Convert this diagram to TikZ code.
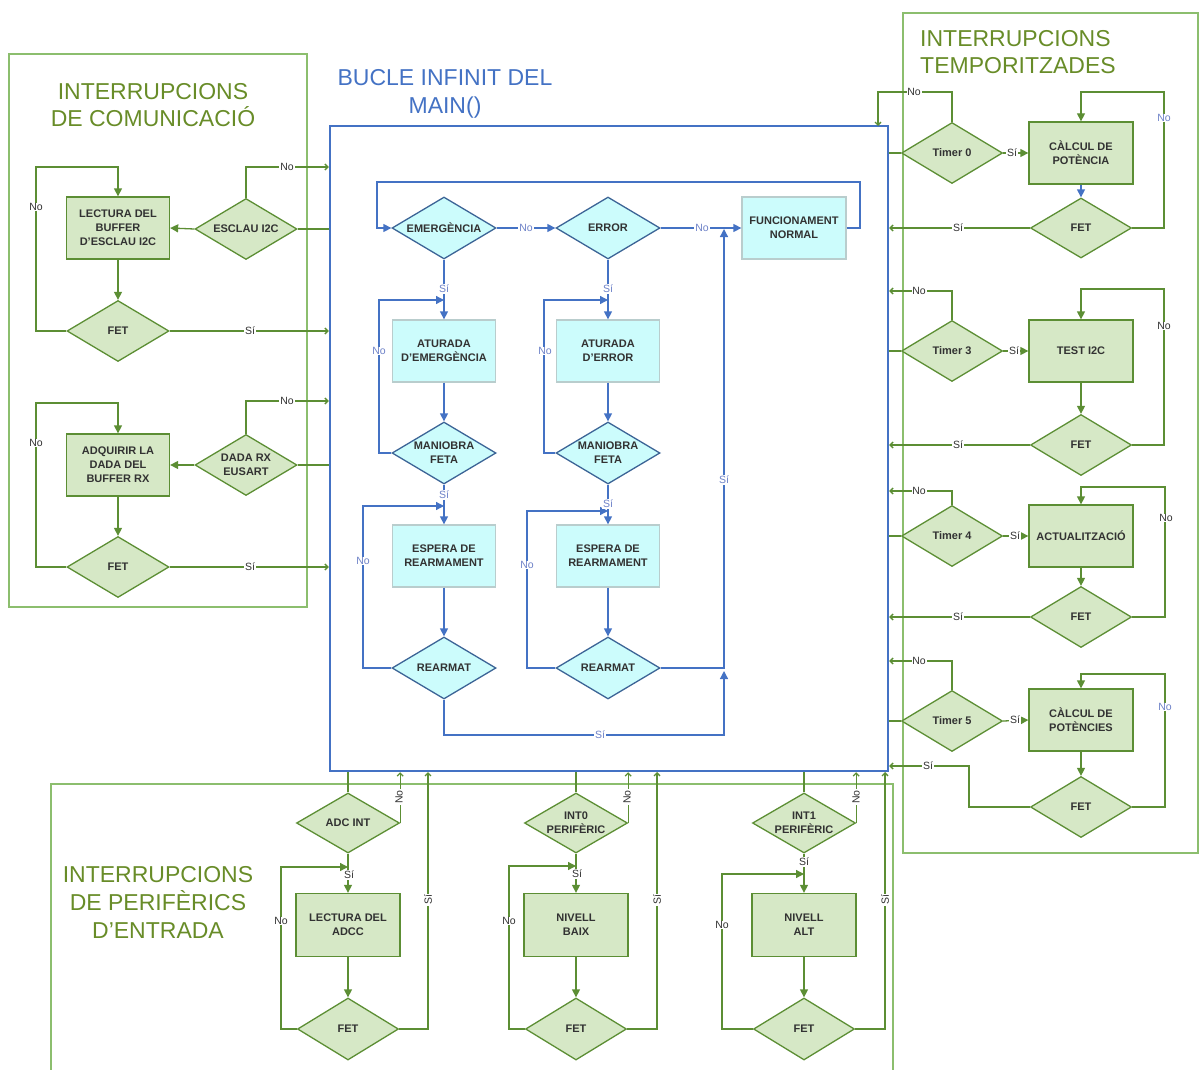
\documentclass[tikz,border=0pt]{standalone}
\usepackage{fontspec}
\setmainfont{Liberation Sans}
\usetikzlibrary{shapes.geometric,arrows.meta,calc}

\definecolor{gline}{RGB}{92,142,52}
\definecolor{gframe}{RGB}{140,190,110}
\definecolor{gfill}{RGB}{214,232,198}
\definecolor{gtitle}{RGB}{104,140,40}
\definecolor{bline}{RGB}{68,114,196}
\definecolor{bfill}{RGB}{204,252,252}
\definecolor{bdia}{RGB}{60,100,150}
\definecolor{bboxline}{RGB}{185,205,205}
\definecolor{blbl}{RGB}{110,130,200}
\definecolor{txt}{RGB}{50,50,50}

\begin{document}
\begin{tikzpicture}[x=1pt,y=-1pt,
  font=\fontsize{11}{14}\selectfont\bfseries,
  gdia/.style={diamond, draw=gline, fill=gfill, line width=1.3pt, inner xsep=-60pt, inner ysep=-30pt,
    minimum width=102pt, minimum height=61pt, align=center, text=txt},
  gbox/.style={rectangle, draw=gline, fill=gfill, line width=1.3pt, inner sep=0pt,
    minimum width=103pt, minimum height=62pt, align=center, text=txt},
  bdiam/.style={diamond, draw=bdia, fill=bfill, line width=1.3pt, inner xsep=-60pt, inner ysep=-30pt,
    minimum width=104pt, minimum height=62pt, align=center, text=txt},
  bbox/.style={rectangle, draw=bboxline, fill=bfill, line width=1.3pt, inner sep=0pt,
    minimum width=103pt, minimum height=62pt, align=center, text=txt},
  gl/.style={draw=gline, line width=1.3pt},
  ga/.style={gl, -{Triangle[length=8pt,width=8pt]}},
  gt/.style={gl, -{Straight Barb[length=3pt,width=6pt]}},
  bl/.style={draw=bline, line width=1.3pt},
  ba/.style={bl, -{Triangle[length=8pt,width=8pt]}},
  glab/.style={fill=white, inner sep=0.8pt, text=txt, font=\fontsize{10.5}{12}\selectfont},
  blab/.style={fill=white, inner sep=0.8pt, text=blbl, font=\fontsize{10.5}{12}\selectfont},
  heading/.style={text=gtitle, font=\fontsize{23}{27.5}\selectfont, align=center, inner sep=0pt},
  frame/.style={draw=gframe, line width=1.3pt}
]
\useasboundingbox (0,0) rectangle (1199,1070);

% ---------- group frames ----------
\draw[frame] (9,54) rectangle (307,607);
\draw[frame] (903,13) rectangle (1198,853);
\draw[frame] (51,1080) -- (51,784) -- (893,784) -- (893,1080);

% ---------- main loop frame ----------
\node[draw=bline, line width=2.4pt, minimum width=558pt, minimum height=645pt, inner sep=0pt] (main) at (609,448.5) {};

% ---------- headings ----------
\node[heading] (tCom) at (153,105) {INTERRUPCIONS\\DE COMUNICACIÓ};
\node[heading, text=bline] (tMain) at (445,94) {BUCLE INFINIT DEL\\MAIN()};
\node[heading, align=left, anchor=west] (tTmp) at (920,52) {INTERRUPCIONS\\TEMPORITZADES};
\node[heading, font=\fontsize{23}{28}\selectfont] (tPer) at (158,902) {INTERRUPCIONS\\DE PERIFÈRICS\\D'ENTRADA};

% ---------- communication interrupts ----------
\node[gdia] (esc) at (246,229) {ESCLAU I2C};
\node[gbox] (lec) at (118,228) {LECTURA DEL\\BUFFER\\D'ESCLAU I2C};
\node[gdia] (fetA) at (118,331) {FET};
\node[gdia] (dada) at (246,465) {DADA RX\\EUSART};
\node[gbox] (adq) at (118,465) {ADQUIRIR LA\\DADA DEL\\BUFFER RX};
\node[gdia] (fetB) at (118,567) {FET};

\draw[ga] (esc.west) -- (lec.east);
\draw[ga] (lec.south) -- (fetA.north);
\draw[ga] (fetA.west) -| (36,167) -| (lec.north);
\draw[gt] (esc.north) |- (main.west |- 0,167);
\draw[gl] (esc.east) -- (main.west |- esc.east);
\draw[gt] (fetA.east) -- (main.west |- fetA.east);
\node[glab] (nA1) at (36,207) {No};
\node[glab] (nA2) at (287,167) {No};
\node[glab] (sA1) at (250,331) {Sí};

\draw[ga] (dada.west) -- (adq.east);
\draw[ga] (adq.south) -- (fetB.north);
\draw[ga] (fetB.west) -| (36,403) -| (adq.north);
\draw[gt] (dada.north) |- (main.west |- 0,401);
\draw[gl] (dada.east) -- (main.west |- dada.east);
\draw[gt] (fetB.east) -- (main.west |- fetB.east);
\node[glab] (nB1) at (36,443) {No};
\node[glab] (nB2) at (287,401) {No};
\node[glab] (sB1) at (250,567) {Sí};

% ---------- main loop ----------
\node[bdiam] (emer) at (444,228) {EMERGÈNCIA};
\node[bdiam] (err) at (608,228) {ERROR};
\node[bbox, minimum width=104pt] (func) at (794,228) {FUNCIONAMENT\\NORMAL};
\node[bbox] (atE) at (444,351) {ATURADA\\D'EMERGÈNCIA};
\node[bbox] (atR) at (608,351) {ATURADA\\D'ERROR};
\node[bdiam] (manE) at (444,453) {MANIOBRA\\FETA};
\node[bdiam] (manR) at (608,453) {MANIOBRA\\FETA};
\node[bbox] (espE) at (444,556) {ESPERA DE\\REARMAMENT};
\node[bbox] (espR) at (608,556) {ESPERA DE\\REARMAMENT};
\node[bdiam] (reaE) at (444,668) {REARMAT};
\node[bdiam] (reaR) at (608,668) {REARMAT};

\draw[ba] (func.east) -- (860,228) |- (377,182) |- (emer.west);
\draw[ba] (emer.east) -- (err.west);
\draw[ba] (err.east) -- (func.west);
\node[blab] (mN1) at (526,228) {No};
\node[blab] (mN2) at (702,228) {No};

\draw[ba] (emer.south) -- (atE.north);
\draw[ba] (atE.south) -- (manE.north);
\draw[ba] (manE.west) -| (379,300) -- (emer.south |- 0,300);
\draw[ba] (manE.south) -- (espE.north);
\draw[ba] (espE.south) -- (reaE.north);
\draw[ba] (reaE.west) -| (363,506) -- (emer.south |- 0,506);
\node[blab] (mS1) at (444,289) {Sí};
\node[blab] (mN3) at (379,351) {No};
\node[blab] (mS2) at (444,495) {Sí};
\node[blab] (mN4) at (363,561) {No};

\draw[ba] (err.south) -- (atR.north);
\draw[ba] (atR.south) -- (manR.north);
\draw[ba] (manR.west) -| (544,300) -- (err.south |- 0,300);
\draw[ba] (manR.south) -- (espR.north);
\draw[ba] (espR.south) -- (reaR.north);
\draw[ba] (reaR.west) -| (527,511) -- (err.south |- 0,511);
\node[blab] (mS3) at (608,289) {Sí};
\node[blab] (mN5) at (545,351) {No};
\node[blab] (mS4) at (608,504) {Sí};
\node[blab] (mN6) at (527,565) {No};

\draw[ba] (reaE.south) |- (724,735) -- (724,671);
\draw[ba] (reaR.east) -| (724,229);
\node[blab] (mS5) at (600,735) {Sí};
\node[blab] (mS6) at (724,480) {Sí};

% ---------- timed interrupts ----------
\node[gdia, minimum width=101pt] (t0) at (952,153) {Timer 0};
\node[gbox, minimum width=104pt] (cp) at (1081,153) {CÀLCUL DE\\POTÈNCIA};
\node[gdia, minimum width=101pt, minimum height=60pt] (f0) at (1081,228) {FET};
\draw[ga] (t0.east) -- (cp.west);
\draw[ba] (cp.south) -- (f0.north);
\draw[ga] (f0.east) -| (1164,92) -| (cp.north);
\draw[gt] (f0.west) -- (main.east |- f0.west);
\draw[gt] (t0.north) |- (878,92) -- (878,126);
\draw[gl] (t0.west) -- (main.east |- t0.west);
\node[glab] (tS0) at (1012,153) {Sí};
\node[blab] (tN0a) at (1164,118) {No};
\node[glab] (tS0b) at (958,228) {Sí};
\node[glab] (tN0b) at (914,92) {No};

\node[gdia, minimum width=101pt] (t3) at (952,351) {Timer 3};
\node[gbox, minimum width=104pt] (ti) at (1081,351) {TEST I2C};
\node[gdia, minimum width=101pt] (f3) at (1081,445) {FET};
\draw[ga] (t3.east) -- (ti.west);
\draw[ga] (ti.south) -- (f3.north);
\draw[ga] (f3.east) -| (1164,289) -| (ti.north);
\draw[gt] (f3.west) -- (main.east |- f3.west);
\draw[gt] (t3.north) |- (main.east |- 0,291);
\draw[gl] (t3.west) -- (main.east |- t3.west);
\node[glab] (tS3) at (1014,351) {Sí};
\node[glab] (tN3a) at (1164,326) {No};
\node[glab] (tS3b) at (958,445) {Sí};
\node[glab] (tN3b) at (919,291) {No};

\node[gdia, minimum width=101pt] (t4) at (952,536) {Timer 4};
\node[gbox, minimum width=104pt] (act) at (1081,536) {ACTUALITZACIÓ};
\node[gdia, minimum width=101pt] (f4) at (1081,617) {FET};
\draw[ga] (t4.east) -- (act.west);
\draw[ga] (act.south) -- (f4.north);
\draw[ga] (f4.east) -| (1165,487) -| (act.north);
\draw[gt] (f4.west) -- (main.east |- f4.west);
\draw[gt] (t4.north) |- (main.east |- 0,491);
\draw[gl] (t4.west) -- (main.east |- t4.west);
\node[glab] (tS4) at (1015,536) {Sí};
\node[glab] (tN4a) at (1166,518) {No};
\node[glab] (tS4b) at (958,617) {Sí};
\node[glab] (tN4b) at (919,491) {No};

\node[gdia, minimum width=101pt] (t5) at (952,721) {Timer 5};
\node[gbox, minimum width=104pt] (cps) at (1081,720) {CÀLCUL DE\\POTÈNCIES};
\node[gdia, minimum width=101pt] (f5) at (1081,807) {FET};
\draw[ga] (t5.east) -- (cps.west);
\draw[ga] (cps.south) -- (f5.north);
\draw[ga] (f5.east) -| (1165,674) -| (cps.north);
\draw[gt] (f5.west) -| (969,766) -- (main.east |- 0,766);
\draw[gt] (t5.north) |- (main.east |- 0,661);
\draw[gl] (t5.west) -- (main.east |- t5.west);
\node[glab] (tS5) at (1015,720) {Sí};
\node[blab] (tN5a) at (1165,707) {No};
\node[glab] (tS5b) at (928,766) {Sí};
\node[glab] (tN5b) at (919,661) {No};

% ---------- input peripheral interrupts ----------
\node[gdia, minimum width=103pt, minimum height=60pt] (adc) at (348,823) {ADC INT};
\node[gbox, minimum width=104pt, minimum height=63pt] (lad) at (348,925) {LECTURA DEL\\ADCC};
\node[gdia, minimum width=101pt, minimum height=62pt] (fad) at (348,1029) {FET};
\draw[gl] (adc.north) -- (adc.north |- main.south);
\draw[gt] (adc.east) -- (adc.east |- main.south);
\draw[ga] (adc.south) -- (lad.north);
\draw[ga] (lad.south) -- (fad.north);
\draw[ga] (fad.west) -| (281,867) -- (adc.south |- 0,867);
\draw[gt] (fad.east) -| (428,772);
\node[glab] (pS1) at (349,875) {Sí};
\node[glab] (pN1) at (281,921) {No};
\node[glab, rotate=90] (pN1b) at (399,797) {No};
\node[glab, rotate=90] (pS1b) at (428,900) {Sí};

\node[gdia, minimum width=103pt, minimum height=60pt] (i0) at (576,823) {INT0\\PERIFÈRIC};
\node[gbox, minimum width=104pt, minimum height=63pt] (nb) at (576,925) {NIVELL\\BAIX};
\node[gdia, minimum width=101pt, minimum height=62pt] (fnb) at (576,1029) {FET};
\draw[gl] (i0.north) -- (i0.north |- main.south);
\draw[gt] (i0.east) -- (i0.east |- main.south);
\draw[ga] (i0.south) -- (nb.north);
\draw[ga] (nb.south) -- (fnb.north);
\draw[ga] (fnb.west) -| (509,866) -- (i0.south |- 0,866);
\draw[gt] (fnb.east) -| (657,772);
\node[glab] (pS2) at (577,874) {Sí};
\node[glab] (pN2) at (509,921) {No};
\node[glab, rotate=90] (pN2b) at (627,797) {No};
\node[glab, rotate=90] (pS2b) at (657,900) {Sí};

\node[gdia, minimum width=103pt, minimum height=60pt] (i1) at (804,823) {INT1\\PERIFÈRIC};
\node[gbox, minimum width=104pt, minimum height=63pt] (na) at (804,925) {NIVELL\\ALT};
\node[gdia, minimum width=101pt, minimum height=62pt] (fna) at (804,1029) {FET};
\draw[gl] (i1.north) -- (i1.north |- main.south);
\draw[gt] (i1.east) -- (i1.east |- main.south);
\draw[ga] (i1.south) -- (na.north);
\draw[ga] (na.south) -- (fna.north);
\draw[ga] (fna.west) -| (722,874) -- (i1.south |- 0,874);
\draw[gt] (fna.east) -| (885,772);
\node[glab] (pS3) at (804,862) {Sí};
\node[glab] (pN3) at (722,925) {No};
\node[glab, rotate=90] (pN3b) at (856,797) {No};
\node[glab, rotate=90] (pS3b) at (885,900) {Sí};
\end{tikzpicture}
\end{document}
